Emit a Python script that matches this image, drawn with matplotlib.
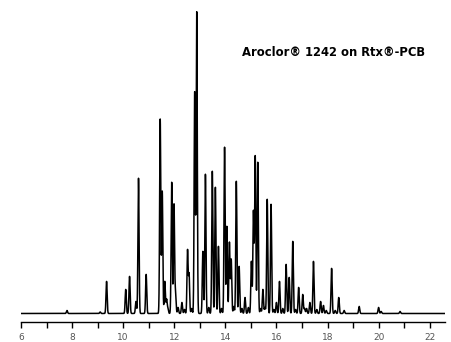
import matplotlib.pyplot as plt
import numpy as np

# retention time (min) and peak height (arbitrary detector units)
RT = [7.80, 9.10, 9.35, 10.10, 10.25, 10.50, 10.60, 10.90, 11.45, 11.53,
      11.63, 11.70, 11.90, 11.99, 12.05, 12.30, 12.52, 12.58, 12.80, 12.88,
      13.12, 13.22, 13.49, 13.61, 13.73, 13.97, 14.06, 14.16, 14.23, 14.43,
      14.54, 14.77, 15.02, 15.10, 15.17, 15.27, 15.47, 15.64, 15.79, 16.00,
      16.12, 16.38, 16.50, 16.64, 16.87, 17.03, 17.18, 17.31, 17.45, 17.73,
      17.84, 18.16, 18.44, 18.65, 19.24, 20.00, 20.10, 20.84]
HEIGHT = [3, 1.5, 32, 24, 37, 12, 135, 39, 194, 122,
          32, 14, 131, 109, 21, 11, 63, 39, 221, 301,
          62, 139, 142, 126, 67, 166, 87, 71, 54, 132,
          47, 16, 52, 102, 157, 151, 24, 114, 109, 11,
          32, 49, 36, 72, 26, 19, 5, 11, 52, 12,
          8, 45, 16, 3, 7, 6, 2, 2]
# small unresolved bumps filling the gaps of the busy part of the run
RT_MINOR = [11.75, 12.15, 12.40, 12.68, 13.35, 13.85, 14.33, 14.65, 14.90,
            15.38, 15.55, 15.90, 16.25, 16.75, 17.10, 17.58, 17.95, 18.30]
HEIGHT_MINOR = [5, 6, 4, 5, 6, 5, 7, 5, 6, 5, 6, 4, 5, 4, 5, 4, 3, 3]
TICKS = list(range(6, 23, 2))

t = np.linspace(6, 22.6, 30000)
signal = np.zeros_like(t)
for rt, h in zip(RT + RT_MINOR, HEIGHT + HEIGHT_MINOR):
    signal += h * np.exp(-0.5 * ((t - rt) / 0.022) ** 2)

fig = plt.figure(figsize=(4.51, 3.42), dpi=100)
ax = fig.add_axes([21 / 451, 20 / 342, 424 / 451, 317 / 342])

ax.plot(t, signal, color='black', linewidth=1.1)

ax.set_xlim(6, 22.6)
ax.set_ylim(-8.5, 308)

for side in ['top', 'right', 'left']:
    ax.spines[side].set_visible(False)
ax.spines['bottom'].set_linewidth(1.0)
ax.set_yticks([])
ax.set_xticks(range(6, 23))
ax.set_xticklabels([str(v) if v in TICKS else '' for v in range(6, 23)])
ax.tick_params(axis='x', direction='out', length=4, width=1.0, pad=4,
               labelsize=6.5, labelcolor='#555555')

fig.text(334 / 451, 1 - 52 / 342, 'Aroclor® 1242 on Rtx®-PCB',
         ha='center', va='center', fontsize=9.3, fontweight='bold',
         fontstretch='condensed', family='DejaVu Sans')

fig.savefig('out.png', dpi=100)
